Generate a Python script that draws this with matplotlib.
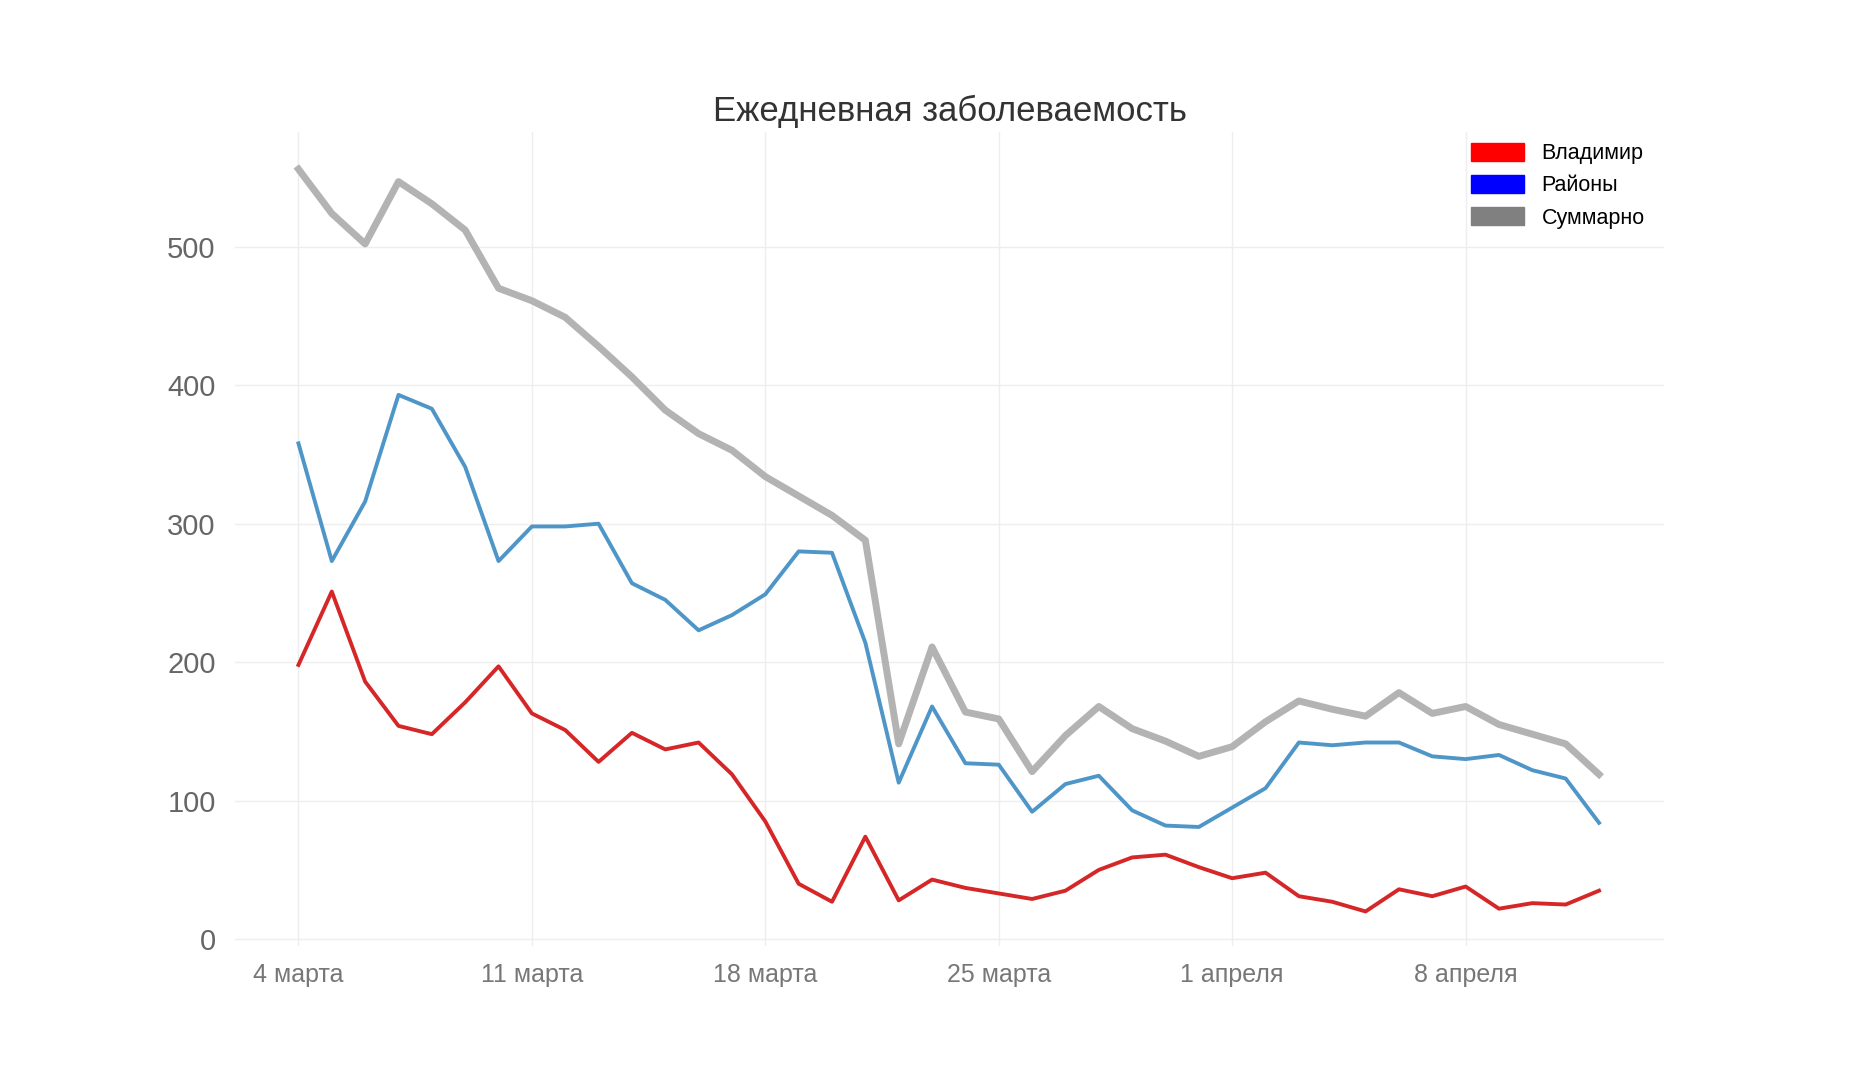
import numpy as np
import pandas as pd
import matplotlib.pyplot as plt
from matplotlib.patches import Patch

plt.rcParams["font.family"] = "Liberation Sans"

# Daily values (4 March .. 12 April)
dates = pd.date_range("2021-03-04", periods=40, freq="D")
vladimir = [198, 251, 186, 154, 148, 171, 197, 163, 151, 128, 149, 137, 142, 119, 85, 40, 27, 74, 28, 43,
            37, 33, 29, 35, 50, 59, 61, 52, 44, 48, 31, 27, 20, 36, 31, 38, 22, 26, 25, 35]
rayony = [358, 273, 316, 393, 383, 341, 273, 298, 298, 300, 257, 245, 223, 234, 249, 280, 279, 214, 113, 168,
          127, 126, 92, 112, 118, 93, 82, 81, 95, 109, 142, 140, 142, 142, 132, 130, 133, 122, 116, 84]
summa = [556, 524, 502, 547, 531, 512, 470, 461, 449, 428, 406, 382, 365, 353, 334, 320, 306, 288, 141, 211,
         164, 159, 121, 147, 168, 152, 143, 132, 139, 157, 172, 166, 161, 178, 163, 168, 155, 148, 141, 119]
tick_days = [0, 7, 14, 21, 28, 35]
tick_labels = ["4 марта", "11 марта", "18 марта", "25 марта", "1 апреля", "8 апреля"]

fig = plt.figure(figsize=(18.51, 10.8), dpi=100)
ax = fig.add_axes([0.127, 0.124, 0.772, 0.754])

x = np.arange(len(dates))
ax.plot(x, summa, color="#b3b3b3", lw=5)
ax.plot(x, rayony, color="#4f96c8", lw=2.8)
ax.plot(x, vladimir, color="#d62728", lw=2.8)

ax.set_xlim(-1.9, 40.95)
ax.set_ylim(-5, 583)
ax.set_xticks(tick_days)
ax.set_xticklabels(tick_labels, fontsize=18, color="#777777")
ax.set_yticks([0, 100, 200, 300, 400, 500])
ax.tick_params(axis="y", labelsize=21, labelcolor="#666666", length=0, pad=14)
ax.tick_params(axis="x", length=0, pad=12)
ax.grid(True, color="#eeeeee", lw=1)
for s in ax.spines.values():
    s.set_visible(False)
ax.set_axisbelow(True)

ax.set_title("Ежедневная заболеваемость", fontsize=25, color="#333333", pad=8)

handles = [Patch(color="red", label="Владимир"),
           Patch(color="blue", label="Районы"),
           Patch(color="gray", label="Суммарно")]
ax.legend(handles=handles, loc="upper right", frameon=False, fontsize=15.5,
          handlelength=2.5, handleheight=0.9, bbox_to_anchor=(1.0, 1.01))

fig.savefig("out.png", dpi=100, facecolor="white")
